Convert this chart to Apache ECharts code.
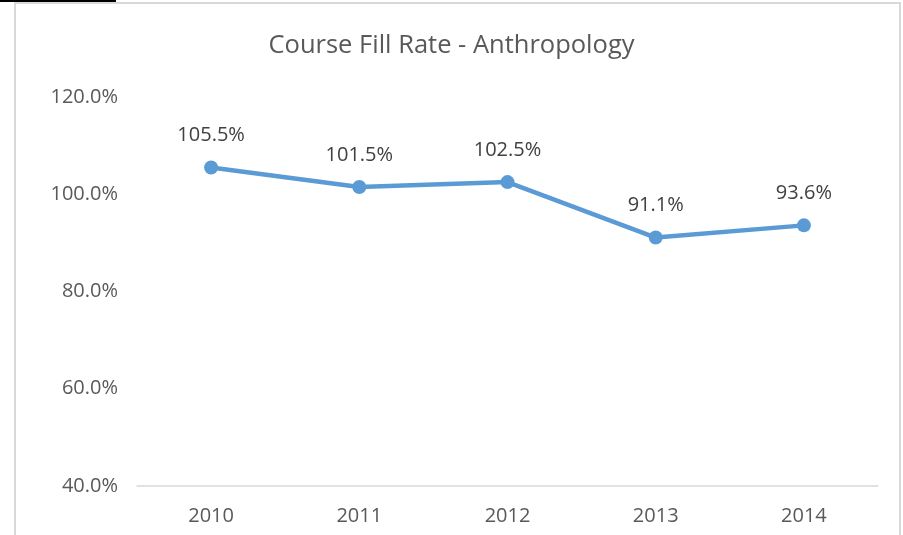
<!DOCTYPE html>
<html>
<head>
<meta charset="utf-8">
<script src="https://cdn.jsdelivr.net/npm/echarts@6/dist/echarts.min.js"></script>
<style>
  html, body { margin: 0; padding: 0; background: #fff; }
  #chart { width: 903px; height: 535px; }
</style>
</head>
<body>
<div id="chart"></div>
<script>
// data
var years = ["2010", "2011", "2012", "2013", "2014"];
var fillRate = [105.5, 101.5, 102.5, 91.1, 93.6];
var yTicks = [40, 60, 80, 100, 120];

var chart = echarts.init(document.getElementById("chart"));
chart.setOption({
  animation: false,
  textStyle: { fontFamily: "Open Sans" },
  title: {
    text: "Course Fill Rate - Anthropology",
    left: "center",
    top: 28,
    textStyle: { color: "#595959", fontSize: 25.5, fontWeight: "normal", fontFamily: "Open Sans" }
  },
  graphic: [
    {
      type: "rect",
      shape: { x: 15, y: 3, width: 885, height: 560 },
      style: { fill: "none", stroke: "#d9d9d9", lineWidth: 2 }
    },
    {
      type: "rect",
      shape: { x: 0, y: 0, width: 116, height: 2 },
      style: { fill: "#000" }
    }
  ],
  grid: { left: 137, right: 25, top: 97, bottom: 49 },
  xAxis: {
    type: "category",
    data: years,
    axisTick: { show: false },
    axisLine: { lineStyle: { color: "#d9d9d9", width: 1.5 } },
    axisLabel: { color: "#595959", fontSize: 20, margin: 20 }
  },
  yAxis: {
    type: "value",
    min: yTicks[0],
    max: yTicks[yTicks.length - 1],
    interval: 20,
    splitLine: { show: false },
    axisLine: { show: false },
    axisTick: { show: false },
    axisLabel: {
      color: "#595959",
      fontSize: 20,
      margin: 19,
      formatter: function (v) { return v.toFixed(1) + "%"; }
    }
  },
  series: [
    {
      type: "line",
      data: fillRate,
      symbol: "circle",
      symbolSize: 14,
      lineStyle: { color: "#5b9bd5", width: 4.5 },
      itemStyle: { color: "#5b9bd5" },
      label: {
        show: true,
        position: "top",
        distance: 15,
        color: "#404040",
        fontSize: 20,
        formatter: function (p) { return p.value.toFixed(1) + "%"; }
      }
    }
  ]
});
</script>
</body>
</html>
